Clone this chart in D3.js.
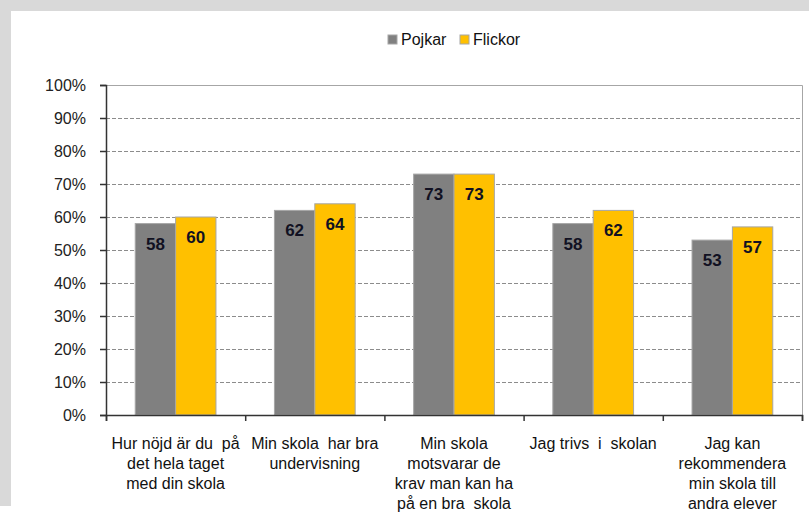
<!DOCTYPE html>
<html>
<head>
<meta charset="utf-8">
<script src="https://cdn.jsdelivr.net/npm/d3@7"></script>
<style>
  body { margin: 0; background: #fff; }
  svg { display: block; font-family: "Liberation Sans", Arial, sans-serif; }
</style>
</head>
<body>
<div id="chart"></div>
<script>
// data
const categories = [
  ["Hur nöjd är du  på", "det hela taget", "med din skola"],
  ["Min skola  har bra", "undervisning"],
  ["Min skola", "motsvarar de", "krav man kan ha", "på en bra  skola"],
  ["Jag trivs  i  skolan"],
  ["Jag kan", "rekommendera", "min skola till", "andra elever"]
]
const seriesNames = ["Pojkar", "Flickor"]
const pojkar = [58, 62, 73, 58, 53]
const flickor = [60, 64, 73, 62, 57]
const yTicks = [0, 10, 20, 30, 40, 50, 60, 70, 80, 90, 100]
const colors = ["#808080", "#FFC000"]

const width = 809, height = 513
const plotLeft = 106, plotRight = 802, plotTop = 85, plotBottom = 415

const svg = d3.select("#chart")
  .append("svg")
    .attr("width", width)
    .attr("height", height)

// gray frame from the screenshot
svg.append("rect").attr("x", 0).attr("y", 0).attr("width", width).attr("height", 11).attr("fill", "#d9d9d9")
svg.append("rect").attr("x", 0).attr("y", 0).attr("width", 11).attr("height", 506).attr("fill", "#d9d9d9")

const x = d3.scaleBand()
  .domain(d3.range(categories.length))
  .range([plotLeft, plotRight])
  .paddingInner(0.42)
  .paddingOuter(0.21)

const xSub = d3.scaleBand()
  .domain([0, 1])
  .range([0, x.bandwidth()])

const y = d3.scaleLinear()
  .domain([0, 100])
  .range([plotBottom, plotTop])

// grid lines
svg.append("g")
  .selectAll("line")
  .data(yTicks.filter(d => d > 0 && d < 100))
  .join("line")
    .attr("x1", plotLeft)
    .attr("x2", plotRight)
    .attr("y1", d => Math.round(y(d)) + 0.5)
    .attr("y2", d => Math.round(y(d)) + 0.5)
    .attr("stroke", "#8c8c8c")
    .attr("stroke-dasharray", "4,2")

// plot frame top and right
svg.append("path")
  .attr("d", `M${plotLeft},${plotTop + 0.5}H${plotRight + 0.5}V${plotBottom}`)
  .attr("fill", "none")
  .attr("stroke", "#a6a6a6")

// bars
const groups = svg.append("g")
  .selectAll("g")
  .data(categories.map((c, i) => [pojkar[i], flickor[i]]))
  .join("g")
    .attr("transform", (d, i) => `translate(${x(i)},0)`)

groups.selectAll("rect")
  .data(d => d)
  .join("rect")
    .attr("x", (d, j) => xSub(j))
    .attr("y", d => y(d))
    .attr("width", xSub.bandwidth())
    .attr("height", d => y(0) - y(d))
    .attr("fill", (d, j) => colors[j])
    .attr("stroke", "#a6a6a6")
    .attr("stroke-width", 1)

groups.selectAll("text")
  .data(d => d)
  .join("text")
    .attr("x", (d, j) => xSub(j) + xSub.bandwidth() / 2)
    .attr("y", d => y(d) + 26)
    .attr("text-anchor", "middle")
    .attr("font-size", 17)
    .attr("font-weight", "bold")
    .attr("fill", "#111122")
    .text(d => d)

// y axis
const yAxis = svg.append("g")
  .attr("transform", `translate(${plotLeft},0)`)
  .call(d3.axisLeft(y).tickValues(yTicks).tickFormat(d => d + "%").tickSize(6).tickPadding(14))
yAxis.select(".domain").attr("stroke", "#333").attr("stroke-width", 1.5)
yAxis.selectAll(".tick line").attr("stroke", "#333").attr("stroke-width", 1.5)
yAxis.selectAll("text")
  .attr("font-size", 16)
  .attr("font-family", "Liberation Sans, Arial, sans-serif")
  .attr("fill", "#222")

// x axis
const xEdge = d3.scaleLinear().domain([0, categories.length]).range([plotLeft, plotRight])
const xAxis = svg.append("g")
  .attr("transform", `translate(0,${plotBottom})`)
  .call(d3.axisBottom(xEdge).ticks(categories.length).tickFormat("").tickSize(6))
xAxis.select(".domain").attr("stroke", "#333").attr("stroke-width", 1.5)
xAxis.selectAll(".tick line").attr("stroke", "#333").attr("stroke-width", 1.5)

// category labels
svg.append("g")
  .selectAll("text")
  .data(categories)
  .join("text")
    .attr("x", (d, i) => x(i) + x.bandwidth() / 2)
    .attr("y", plotBottom + 34)
    .attr("text-anchor", "middle")
    .attr("font-size", 16)
    .attr("fill", "#111")
    .style("white-space", "pre")
  .selectAll("tspan")
  .data(d => d)
  .join("tspan")
    .attr("x", function() { return this.parentNode.getAttribute("x") })
    .attr("dy", (d, k) => k === 0 ? 0 : 20)
    .text(d => d)

// legend
const legend = svg.append("g")
  .selectAll("g")
  .data(seriesNames)
  .join("g")
    .attr("transform", (d, i) => `translate(${i === 0 ? 388 : 460},35)`)
legend.append("rect")
  .attr("width", 9)
  .attr("height", 9)
  .attr("fill", (d, i) => colors[i])
  .attr("stroke", "#a6a6a6")
legend.append("text")
  .attr("x", 13)
  .attr("y", 10)
  .attr("font-size", 16)
  .attr("fill", "#111")
  .text(d => d)
</script>
</body>
</html>
